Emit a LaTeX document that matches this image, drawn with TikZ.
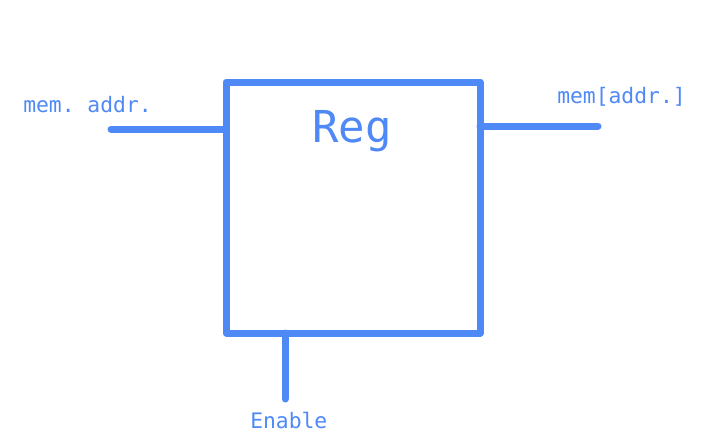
\documentclass[tikz,border=0pt]{standalone}
\usepackage{fontspec}
\setmonofont{DejaVu Sans Mono}
\usetikzlibrary{calc}
\definecolor{regblue}{HTML}{4F89F5}

\begin{document}
\begin{tikzpicture}[x=0.75pt, y=-0.75pt, wire/.style = {draw=regblue, line width=5.25pt, line cap=round, line join=round}, lbl/.style = {text=regblue, font=\ttfamily\fontsize{16}{19}\selectfont, inner sep=0pt, anchor=base west}]
        \useasboundingbox (0,0) rectangle (706,446);
        \node[wire, rectangle, minimum width=190.5pt, minimum height=188.25pt, outer sep=0pt] (reg) at (353,207.5) {};
        \node[text=regblue, font=\ttfamily\fontsize{33}{38}\selectfont, inner sep=0pt, anchor=base] (name) at (352,142) {Reg};
        \coordinate (in) at (111,129);
        \coordinate (out) at (598,126);
        \coordinate (en) at (285,399);
        \draw[wire] (in) -- (reg.west |- in);
        \draw[wire] (reg.east |- out) -- (out);
        \draw[wire] (reg.south -| en) -- (en);
        \node[lbl] (inlbl) at (23,112) {mem. addr.};
        \node[lbl] (outlbl) at (557,103) {mem[addr.]};
        \node[lbl] (enlbl) at (250,428) {Enable};
    \end{tikzpicture}
\end{document}
